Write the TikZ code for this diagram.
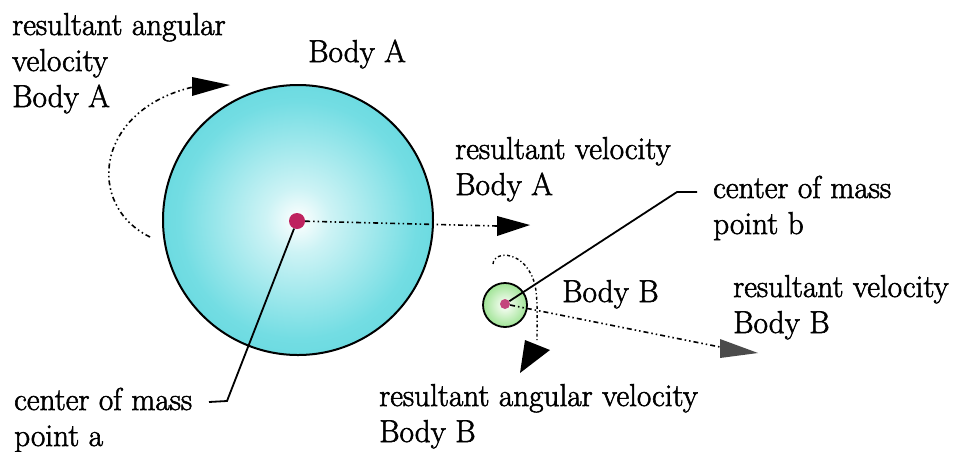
\documentclass[tikz,border=0pt]{standalone}
\usepackage{fontspec}
\setmainfont{Latin Modern Roman}[FakeStretch=0.985, FakeBold=1.8]
\definecolor{cAa}{RGB}{205,243,245}
\definecolor{cAb}{RGB}{115,221,227}
\definecolor{cAc}{RGB}{55,200,208}
\definecolor{cBa}{RGB}{225,247,220}
\definecolor{cBb}{RGB}{160,228,150}
\definecolor{cBc}{RGB}{105,205,100}
\definecolor{dotAcol}{RGB}{190,35,95}
\definecolor{dotBcol}{RGB}{195,70,125}
\definecolor{headgray}{RGB}{75,75,75}
\pgfdeclareradialshading{ballA}{\pgfpoint{0bp}{0bp}}{color(0bp)=(white); color(6bp)=(cAa); color(22bp)=(cAb); color(50bp)=(cAc)}
\pgfdeclareradialshading{ballB}{\pgfpoint{0bp}{0bp}}{color(0bp)=(white); color(8bp)=(cBa); color(25bp)=(cBb); color(50bp)=(cBc)}
\newcommand{\mlines}[1]{\begin{tabular}[t]{@{}l@{}}#1\end{tabular}}
\begin{document}
\begin{tikzpicture}[x=1pt,y=-1pt,
  lbl/.style={anchor=base west, inner sep=0pt, font=\fontsize{31.7}{36}\selectfont},
  ddot/.style={line width=1.6pt, dash pattern=on 5pt off 3pt on 1.5pt off 3pt on 1.5pt off 3pt},
  fdot/.style={line width=1.4pt, dash pattern=on 3pt off 2.5pt on 1.2pt off 2.5pt},
  leader/.style={line width=1.8pt},
  head/.style={fill=black}]
\useasboundingbox (0,0) rectangle (958,451);
% bodies
\node[circle, draw, line width=2pt, minimum size=270pt, inner sep=0pt, shading=ballA] (bodyA) at (298,220) {};
\node[circle, draw, line width=1.8pt, minimum size=44pt, inner sep=0pt, shading=ballB] (bodyB) at (505,305) {};
\node[circle, fill=dotAcol, minimum size=16pt, inner sep=0pt] (cmA) at (297,221) {};
\node[circle, fill=dotBcol, minimum size=10pt, inner sep=0pt] (cmB) at (505,304) {};
% coordinates
\coordinate (vAend) at (497,226);
\coordinate (vBend) at (720,347);
\coordinate (kA) at (227,401);
\coordinate (tA) at (209,402);
\coordinate (kB) at (677,192);
\coordinate (tB) at (697,192);
% velocity A
\draw[ddot] (cmA) -- (vAend);
\fill[head] (497,216) -- (530,225) -- (497,236) -- cycle;
% angular velocity A
\draw[ddot] (150,237) .. controls (85,205) and (95,110) .. (193,87);
\fill[head] (192,77) -- (230,85) -- (192,96) -- cycle;
% angular velocity B
\draw[fdot] (493,264) .. controls (494,250) and (526,250) .. (535,285) .. controls (538,300) and (537,320) .. (537,340);
\fill[head] (525,340) -- (550,350) -- (520,373) -- cycle;
% velocity B
\draw[ddot] (cmB) -- (vBend);
\fill[headgray] (720,339) -- (758,353) -- (720,358) -- cycle;
% leaders
\draw[leader] (cmA) -- (kA) -- (tA);
\draw[leader] (cmB) -- (kB) -- (tB);
% labels
\node[lbl] (tAngA) at (12,35) {\mlines{resultant angular\\velocity\\Body A}};
\node[lbl] (tBodyA) at (308,62) {Body A};
\node[lbl] (tVelA) at (455,159) {\mlines{resultant velocity\\Body A}};
\node[lbl] (tCmB) at (713,198) {\mlines{center of mass\\point b}};
\node[lbl] (tBodyB) at (562,302) {Body B};
\node[lbl] (tVelB) at (733,297) {\mlines{resultant velocity\\Body B}};
\node[lbl] (tAngB) at (379,406) {\mlines{resultant angular velocity\\Body B}};
\node[lbl] (tCmA) at (14,410) {\mlines{center of mass\\point a}};
\end{tikzpicture}
\end{document}
